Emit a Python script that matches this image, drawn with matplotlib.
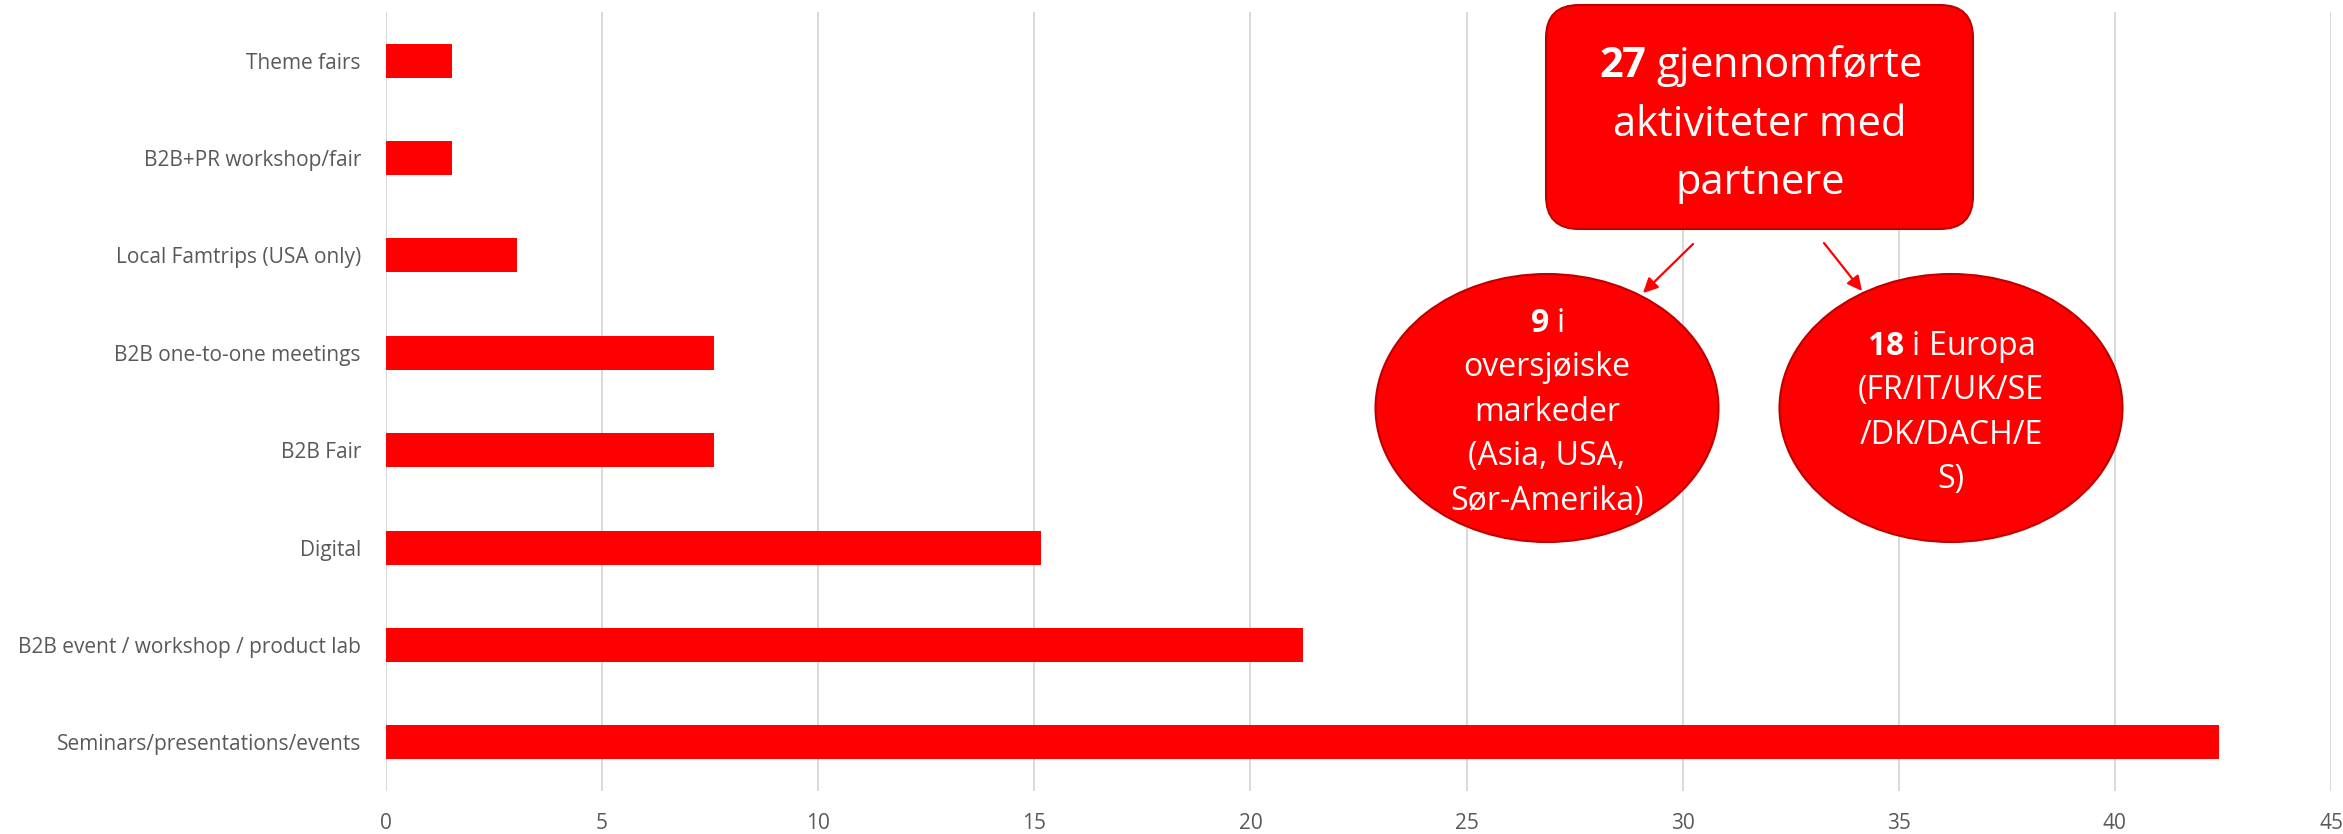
import matplotlib
matplotlib.use("Agg")
import matplotlib.pyplot as plt
import matplotlib.transforms as mtransforms
from matplotlib.patches import Ellipse, FancyBboxPatch
import numpy as np

plt.rcParams['font.family'] = ['Open Sans', 'DejaVu Sans']
plt.rcParams['mathtext.fontset'] = 'custom'
plt.rcParams['mathtext.rm'] = 'Open Sans'
plt.rcParams['mathtext.bf'] = 'Open Sans:bold'

# data, top to bottom as shown
categories = ['Theme fairs', 'B2B+PR workshop/fair', 'Local Famtrips (USA only)',
              'B2B one-to-one meetings', 'B2B Fair', 'Digital',
              'B2B event / workshop / product lab', 'Seminars/presentations/events']
values = [1.52, 1.52, 3.03, 7.58, 7.58, 15.15, 21.21, 42.42]
xticks = [0, 5, 10, 15, 20, 25, 30, 35, 40, 45]

box_lines = [r'$\mathbf{27}$ gjennomførte', 'aktiviteter med', 'partnere']
left_lines = [r'$\mathbf{9}$ i', 'oversjøiske', 'markeder', '(Asia, USA,', 'Sør-Amerika)']
right_lines = [r'$\mathbf{18}$ i Europa', '(FR/IT/UK/SE', '/DK/DACH/E', 'S)']

W, H = 2343, 834
red = '#FF0000'
edge = '#C00000'
grey = '#595959'

fig = plt.figure(figsize=(W / 100, H / 100), dpi=100)
ax = fig.add_axes([386 / W, 1 - 791 / H, (2331 - 386) / W, (791 - 12) / H])

ypos = np.arange(len(categories))[::-1]
ax.barh(ypos, values, height=0.35, color=red, zorder=2)
ax.set_ylim(-0.5, len(categories) - 0.5)
ax.set_xlim(0, 45)
ax.set_xticks(xticks)
ax.set_yticks(ypos)
ax.set_yticklabels(categories)
ax.grid(axis='x', color='#D9D9D9', lw=1.4, zorder=0)
ax.set_axisbelow(True)
for sp in ax.spines.values():
    sp.set_visible(False)
ax.tick_params(axis='both', length=0, labelsize=15, labelcolor=grey)
ax.tick_params(axis='y', pad=18)
ax.tick_params(axis='x', pad=16)

# pixel coords from top-left of the figure
pix = mtransforms.Affine2D().scale(1 / W, -1 / H).translate(0, 1) + fig.transFigure

box = FancyBboxPatch((1546 + 33, 5 + 33), 427 - 66, 224 - 66,
                     boxstyle='round,pad=33,rounding_size=33',
                     transform=pix, fc=red, ec=edge, lw=1.5, zorder=5)
fig.add_artist(box)
for txt, yb in zip(box_lines, [77, 136, 194]):
    fig.text(1760, yb, txt, transform=pix, ha='center', va='baseline',
             color='white', fontsize=30, zorder=6)

for cx, lines, y0 in [(1547, left_lines, 332), (1951, right_lines, 355)]:
    e = Ellipse((cx, 408), 343, 268, transform=pix, fc=red, ec=edge, lw=1.5, zorder=5)
    fig.add_artist(e)
    for k, txt in enumerate(lines):
        fig.text(cx, y0 + k * 44.5, txt, transform=pix, ha='center', va='baseline',
                 color='white', fontsize=23, zorder=6)

for (x0, y0), (x1, y1) in [((1693, 244), (1643, 293)), ((1824, 243), (1862, 291))]:
    ann = ax.annotate('', xy=(x1, y1), xytext=(x0, y0), xycoords=pix, textcoords=pix,
                      arrowprops=dict(arrowstyle='-|>', color=red, lw=1.6,
                                      mutation_scale=22, shrinkA=0, shrinkB=0),
                      zorder=6)
    ann.set_clip_on(False)

fig.savefig('out.png', dpi=100)
